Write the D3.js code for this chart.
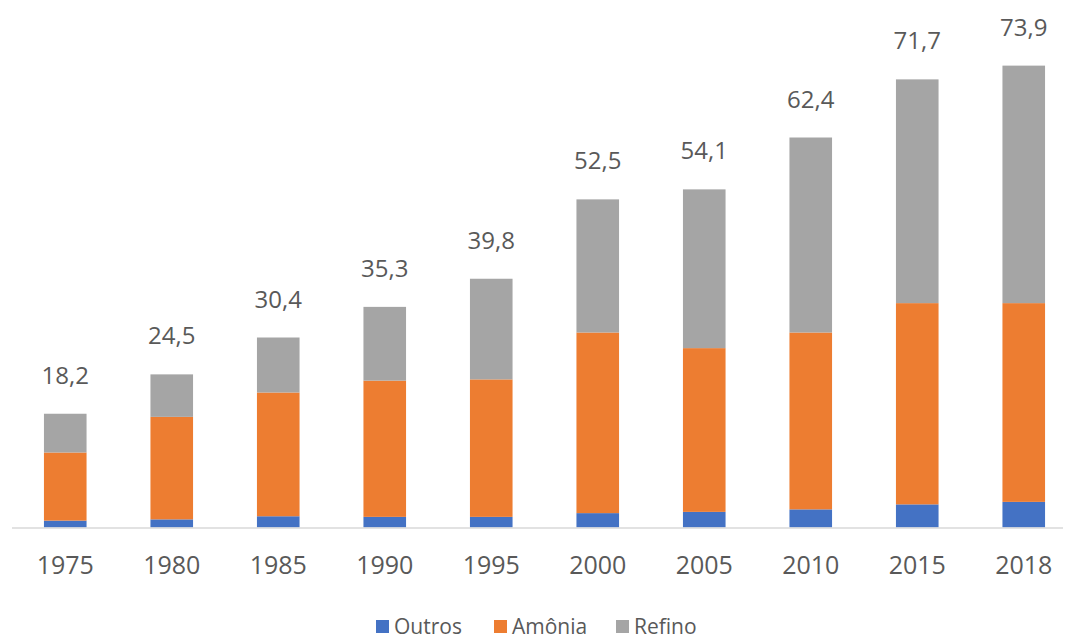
<!DOCTYPE html>
<html><head><meta charset="utf-8">
<script src="https://cdn.jsdelivr.net/npm/d3@7"></script>
<style>
html,body{margin:0;padding:0;background:#fff;}
text{font-family:"Open Sans",sans-serif;fill:#595959;}
</style></head>
<body>
<svg id="chart" width="1065" height="639"></svg>
<script>
const years = ["1975","1980","1985","1990","1995","2000","2005","2010","2015","2018"];
const outros = [1.1, 1.3, 1.8, 1.7, 1.7, 2.3, 2.5, 2.9, 3.7, 4.1];
const amonia = [10.9, 16.4, 19.8, 21.8, 22.0, 28.9, 26.2, 28.3, 32.2, 31.8];
const refino = [6.2, 6.8, 8.8, 11.8, 16.1, 21.3, 25.4, 31.2, 35.8, 38.0];
const totals = ["18,2","24,5","30,4","35,3","39,8","52,5","54,1","62,4","71,7","73,9"];
const seriesNames = ["Outros","Amônia","Refino"];
const colors = ["#4472C4","#ED7D31","#A5A5A5"];

const rows = years.map((y,i)=>({year:y, Outros:outros[i], "Amônia":amonia[i], Refino:refino[i]}));
const svg = d3.select("#chart");
const x = d3.scaleBand().domain(years).range([12,1077]).paddingInner(0.6).paddingOuter(0.3);
const y = d3.scaleLinear().domain([0,80]).range([527.5,27.5]);
const stack = d3.stack().keys(seriesNames)(rows);

svg.append("g").selectAll("g").data(stack).join("g")
  .attr("fill",(d,i)=>colors[i])
  .selectAll("rect").data(d=>d).join("rect")
  .attr("x",d=>x(d.data.year))
  .attr("width",x.bandwidth())
  .attr("y",d=>y(d[1]))
  .attr("height",d=>y(d[0])-y(d[1]));

// axis line
svg.append("line").attr("x1",12).attr("x2",1063).attr("y1",y(0)+0.5).attr("y2",y(0)+0.5)
  .attr("stroke","#D9D9D9").attr("stroke-width",1.5);

// tick labels
const xAxis = d3.axisBottom(x).tickSize(0).tickPadding(0);
const gx = svg.append("g").attr("transform","translate(0,556)").call(xAxis);
gx.select(".domain").remove();
gx.selectAll("text").attr("font-size","25px").attr("font-family","Open Sans, sans-serif")
  .attr("fill","#595959").attr("dy","0.71em");

// value labels
svg.append("g").selectAll("text").data(rows).join("text")
  .attr("x",d=>x(d.year)+x.bandwidth()/2)
  .attr("y",(d,i)=>y(outros[i]+amonia[i]+refino[i])-30)
  .attr("text-anchor","middle").attr("font-size","24px")
  .text((d,i)=>totals[i]);

// legend
const leg = svg.append("g");
const legX = [376, 494, 616];
seriesNames.forEach((n,i)=>{
  leg.append("rect").attr("x",legX[i]).attr("y",620).attr("width",13).attr("height",13).attr("fill",colors[i]);
  leg.append("text").attr("x",legX[i]+18).attr("y",634).attr("font-size","21px").text(n);
});
</script>
</body></html>
